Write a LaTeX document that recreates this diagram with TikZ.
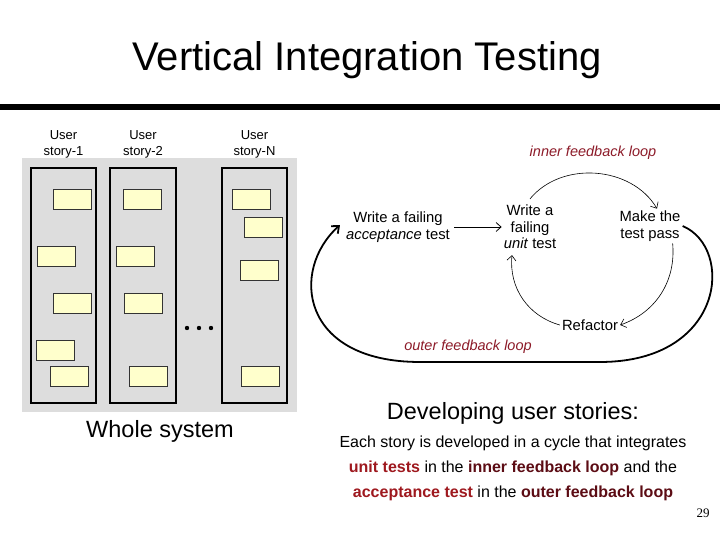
\documentclass[tikz,border=0pt]{standalone}
\usepackage{fontspec}
\setmainfont{Liberation Sans}
\newfontfamily\pagenofont{Liberation Serif}
\usetikzlibrary{positioning,arrows.meta}
\definecolor{panelgray}{RGB}{221,221,221}
\definecolor{notefill}{RGB}{255,255,204}
\definecolor{unitred}{RGB}{158,24,30}
\definecolor{loopred}{RGB}{92,12,20}
\definecolor{labelred}{RGB}{140,26,40}

\begin{document}
\begin{tikzpicture}[x=1pt,y=1pt,
		note/.style={draw=black!80,fill=notefill,minimum width=38pt,minimum height=20pt,inner sep=0pt,line width=0.8pt},
		story/.style={draw,line width=1.2pt,fill=panelgray,minimum width=65pt,minimum height=235pt,inner sep=0pt},
		head/.style={align=center,font=\fontsize{13}{16}\selectfont,inner sep=0pt},
		stage/.style={align=center,font=\fontsize{14.8}{16.5}\selectfont,inner sep=2pt},
		loopname/.style={font=\fontsize{14.5}{17}\selectfont\itshape,text=labelred},
		thinarr/.style={-{Straight Barb[length=5pt,width=9pt]},line width=0.6pt},
		outerarr/.style={-{Straight Barb[length=6pt,width=10pt]},line width=1.8pt}]
	\useasboundingbox (0,0) rectangle (720,540);
	
	% title
	\node (title) [anchor=base,font=\fontsize{40}{48}\selectfont] at (367,469) {Vertical Integration Testing};
	\fill (0,430) rectangle (720,436);
	
	% whole system
	\fill[panelgray] (22,128) rectangle (297,382);
	\node (s1) [story] at (63.5,254.5) {};
	\node (s2) [story,minimum width=66pt] at (143,254.5) {};
	\node (s3) [story] at (254.5,254.5) {};
	\node (h1) [head,above=9pt of s1] {User\\story-1};
	\node (h2) [head,above=9pt of s2] {User\\story-2};
	\node (h3) [head,above=9pt of s3] {User\\story-N};
	
	\node (a1) [note] at (72.5,340.5) {};
	\node (a2) [note] at (56,283.5)   {};
	\node (a3) [note] at (72.5,237)   {};
	\node (a4) [note] at (55.5,190)   {};
	\node (a5) [note] at (69,164)     {};
	
	\node (b1) [note] at (142,340.5) {};
	\node (b2) [note] at (135,283.5) {};
	\node (b3) [note] at (143,237)   {};
	\node (b4) [note] at (148,164)   {};
	
	\node (c1) [note] at (251,340.5) {};
	\node (c2) [note] at (263,313)   {};
	\node (c3) [note] at (259,269.5) {};
	\node (c4) [note] at (260,164)   {};
	
	\fill (187,212) circle (2.2) (199,212) circle (2.2) (211,212) circle (2.2);
	\node (whole) [font=\fontsize{23.5}{28}\selectfont] at (160,109) {Whole system};
	
	% feedback loops
	\node (accept) [stage] at (398,313) {Write a failing\\\textit{acceptance} test};
	\node (unit)   [stage] at (530,313) {Write a\\failing\\\textit{unit} test};
	\node (pass)   [stage] at (650,314) {Make the\\test pass};
	\node (refac)  [stage] at (590,215) {Refactor};
	\node (inner)  [loopname] at (593,387) {inner feedback loop};
	\node (outer)  [loopname] at (468,193) {outer feedback loop};
	
	\draw[thinarr,line width=0.8pt] ([xshift=2pt]accept.east) -- (unit.west);
	\draw[thinarr] ([yshift=4pt]unit.north) to[bend left=55] ([xshift=7pt]pass.north);
	\draw[thinarr] ([xshift=-10pt]pass.south east) to[bend left=38] (refac.east);
	\draw[thinarr] (refac.west) to[bend left=40] ([xshift=-18pt,yshift=-4pt]unit.south);
	\draw[outerarr] (pass.east) .. controls +(52,-22) and +(125,0) .. (600,178)
		-- (420,178) .. controls +(-120,0) and +(-50,-45) .. ([xshift=-4pt,yshift=2pt]accept.west);
	
	% text below
	\node (devel) [font=\fontsize{23.5}{28}\selectfont] at (513,127) {Developing user stories:};
	\node (cycle) [align=center,font=\fontsize{16}{25}\selectfont] at (513,72)
		{Each story is developed in a cycle that integrates\\
		\textbf{\textcolor{unitred}{unit tests}} in the \textbf{\textcolor{loopred}{inner feedback loop}} and the\\
		\textbf{\textcolor{unitred}{acceptance test}} in the \textbf{\textcolor{loopred}{outer feedback loop}}};
	\node (pageno) [font=\pagenofont\fontsize{13}{15}\selectfont] at (703,27) {29};
\end{tikzpicture}
\end{document}
